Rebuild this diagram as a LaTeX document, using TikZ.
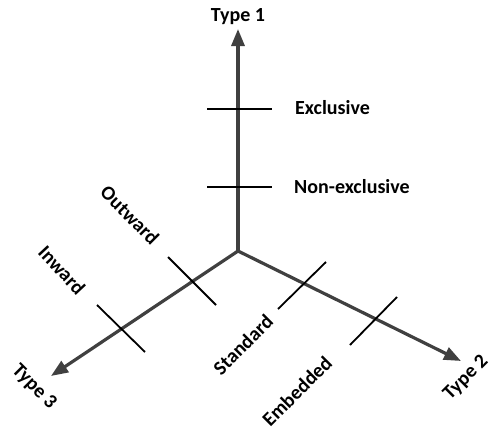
\documentclass[tikz,border=0pt]{standalone}
\usepackage{fontspec}
\setmainfont{Carlito}
\usetikzlibrary{arrows.meta}
\begin{document}
\begin{tikzpicture}[x=1pt,y=-1pt,
  axis/.style={draw=black!75, line width=3.2pt, -{Triangle[length=17pt,width=13pt]}},
  tick/.style={draw=black, line width=1.8pt},
  lbl/.style={font=\fontsize{20}{22}\selectfont\bfseries, inner sep=0pt}]
\useasboundingbox (0,0) rectangle (491,431);
\coordinate (O) at (238,251);
\coordinate (T1) at (238,29);
\coordinate (T2) at (461,361);
\coordinate (T3) at (51,376);
\draw[axis] (O) -- (T1);
\draw[axis] (O) -- (T2);
\draw[axis] (O) -- (T3);
% ticks on Type 1
\coordinate (a1) at (207,109); \coordinate (a2) at (272,109);
\coordinate (b1) at (207,187); \coordinate (b2) at (272,187);
\draw[tick] (a1) -- (a2);
\draw[tick] (b1) -- (b2);
% ticks on Type 2
\coordinate (c1) at (278,309); \coordinate (c2) at (326,262);
\coordinate (d1) at (350,345); \coordinate (d2) at (397,297);
\draw[tick] (c1) -- (c2);
\draw[tick] (d1) -- (d2);
% ticks on Type 3
\coordinate (e1) at (168,257); \coordinate (e2) at (216,305);
\coordinate (f1) at (97,305); \coordinate (f2) at (145,352);
\draw[tick] (e1) -- (e2);
\draw[tick] (f1) -- (f2);
% labels
\node[lbl] (l1) at (238,17) {Type 1};
\node[lbl, anchor=west] (lex) at (295,108) {Exclusive};
\node[lbl, anchor=west] (lne) at (294,187) {Non-exclusive};
\node[lbl, rotate=-45] (lout) at (130,215) {Outward};
\node[lbl, rotate=-47] (lin) at (62,270) {Inward};
\node[lbl, rotate=-45] (l3) at (34,387) {Type 3};
\node[lbl, rotate=45] (lst) at (243,345) {Standard};
\node[lbl, rotate=45] (lem) at (297,391) {Embedded};
\node[lbl, rotate=45] (l2) at (466,378) {Type 2};
\end{tikzpicture}
\end{document}
